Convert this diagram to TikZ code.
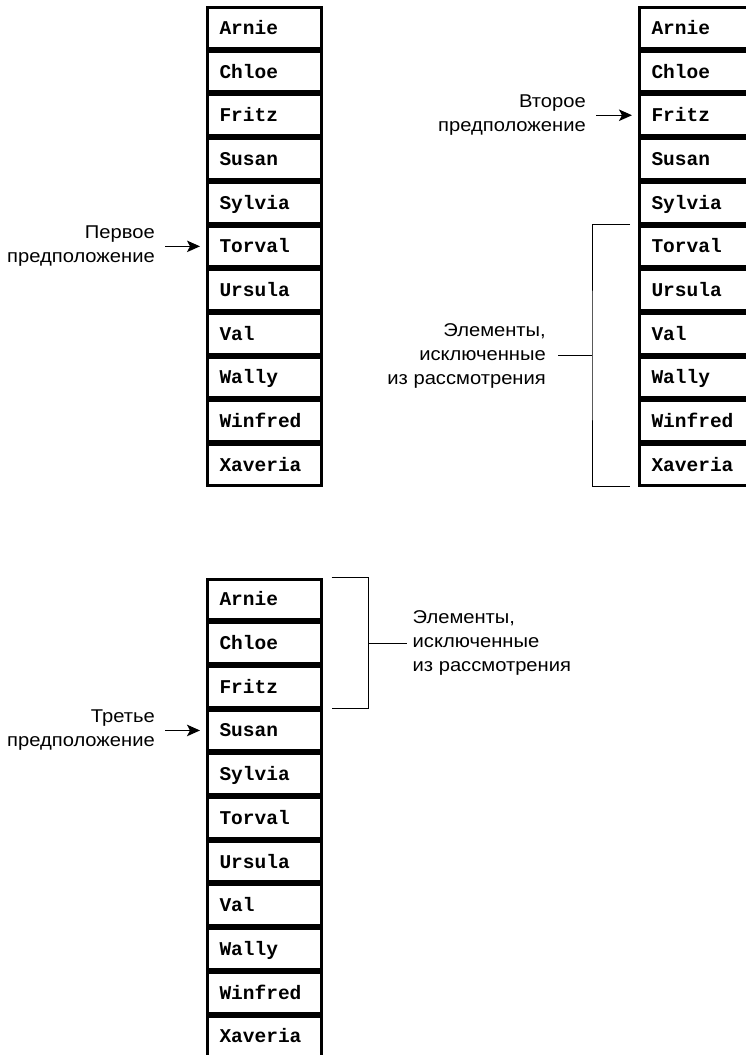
\documentclass[tikz,border=0pt]{standalone}
\usepackage{fontspec}
\setmainfont{Liberation Sans}[FakeStretch=1.09]
\setmonofont{Liberation Mono}
\usetikzlibrary{arrows.meta,positioning,calc}

\begin{document}
\begin{tikzpicture}[
    cell/.style={draw, line width=3pt, minimum width=113.5pt, minimum height=40.7pt,
                 text width=89.5pt, align=left, inner xsep=12pt, inner ysep=0pt,
                 text height=14pt, text depth=1pt, anchor=north west,
                 font=\fontsize{19.5}{22}\selectfont\ttfamily\bfseries},
    lbl/.style={inner sep=0pt, font=\fontsize{18.5}{24}\selectfont},
    arr/.style={-{Stealth[length=13pt, width=11.5pt, inset=3pt]}, line width=1.4pt,
                shorten <=10pt, shorten >=6pt},
    brk/.style={line width=1pt}
  ]
  \useasboundingbox (0,0) rectangle (745pt,-1055pt);
  % the sorted list, drawn three times
  \foreach \nm [count=\i] in {Arnie,Chloe,Fritz,Susan,Sylvia,Torval,Ursula,Val,Wally,Winfred,Xaveria}{
    \node[cell] (a\i) at (206pt,{-6pt-(\i-1)*43.7pt}) {\nm};
    \node[cell] (b\i) at (638pt,{-6pt-(\i-1)*43.7pt}) {\nm};
    \node[cell] (c\i) at (206pt,{-577.5pt-(\i-1)*43.7pt}) {\nm};
  }
  % first guess
  \node[lbl, align=right, left=51pt of a6.west] (g1) {Первое\\предположение};
  \draw[arr] (g1.east) -- (a6.west);
  % second guess
  \node[lbl, align=right, left=52pt of b3.west] (g2) {Второе\\предположение};
  \draw[arr] (g2.east) -- (b3.west);
  % third guess
  \node[lbl, align=right, left=51pt of c4.west] (g3) {Третье\\предположение};
  \draw[arr] (g3.east) -- (c4.west);
  % bracket over the lower half of the second list
  \coordinate (k1) at ($([xshift=-46pt]b6.north west)!0.5!([xshift=-46pt]b11.south west)$);
  \draw[brk] ([xshift=-8pt]b6.north west) -| (k1) |- ([xshift=-8pt]b11.south west);
  \node[lbl, align=right, left=46pt of k1] (e1) {Элементы,\\исключенные\\из рассмотрения};
  \draw[brk, shorten <=12pt] (e1.east) -- (k1);
  % bracket over the top of the third list
  \coordinate (k2) at ($([xshift=46pt]c1.north east)!0.5!([xshift=46pt]c3.south east)$);
  \draw[brk] ([xshift=9pt]c1.north east) -| (k2) |- ([xshift=9pt]c3.south east);
  \node[lbl, align=left, right=44pt of k2] (e2) {Элементы,\\исключенные\\из рассмотрения};
  \draw[brk, shorten <=6pt] (e2.west) -- (k2);
\end{tikzpicture}
\end{document}
